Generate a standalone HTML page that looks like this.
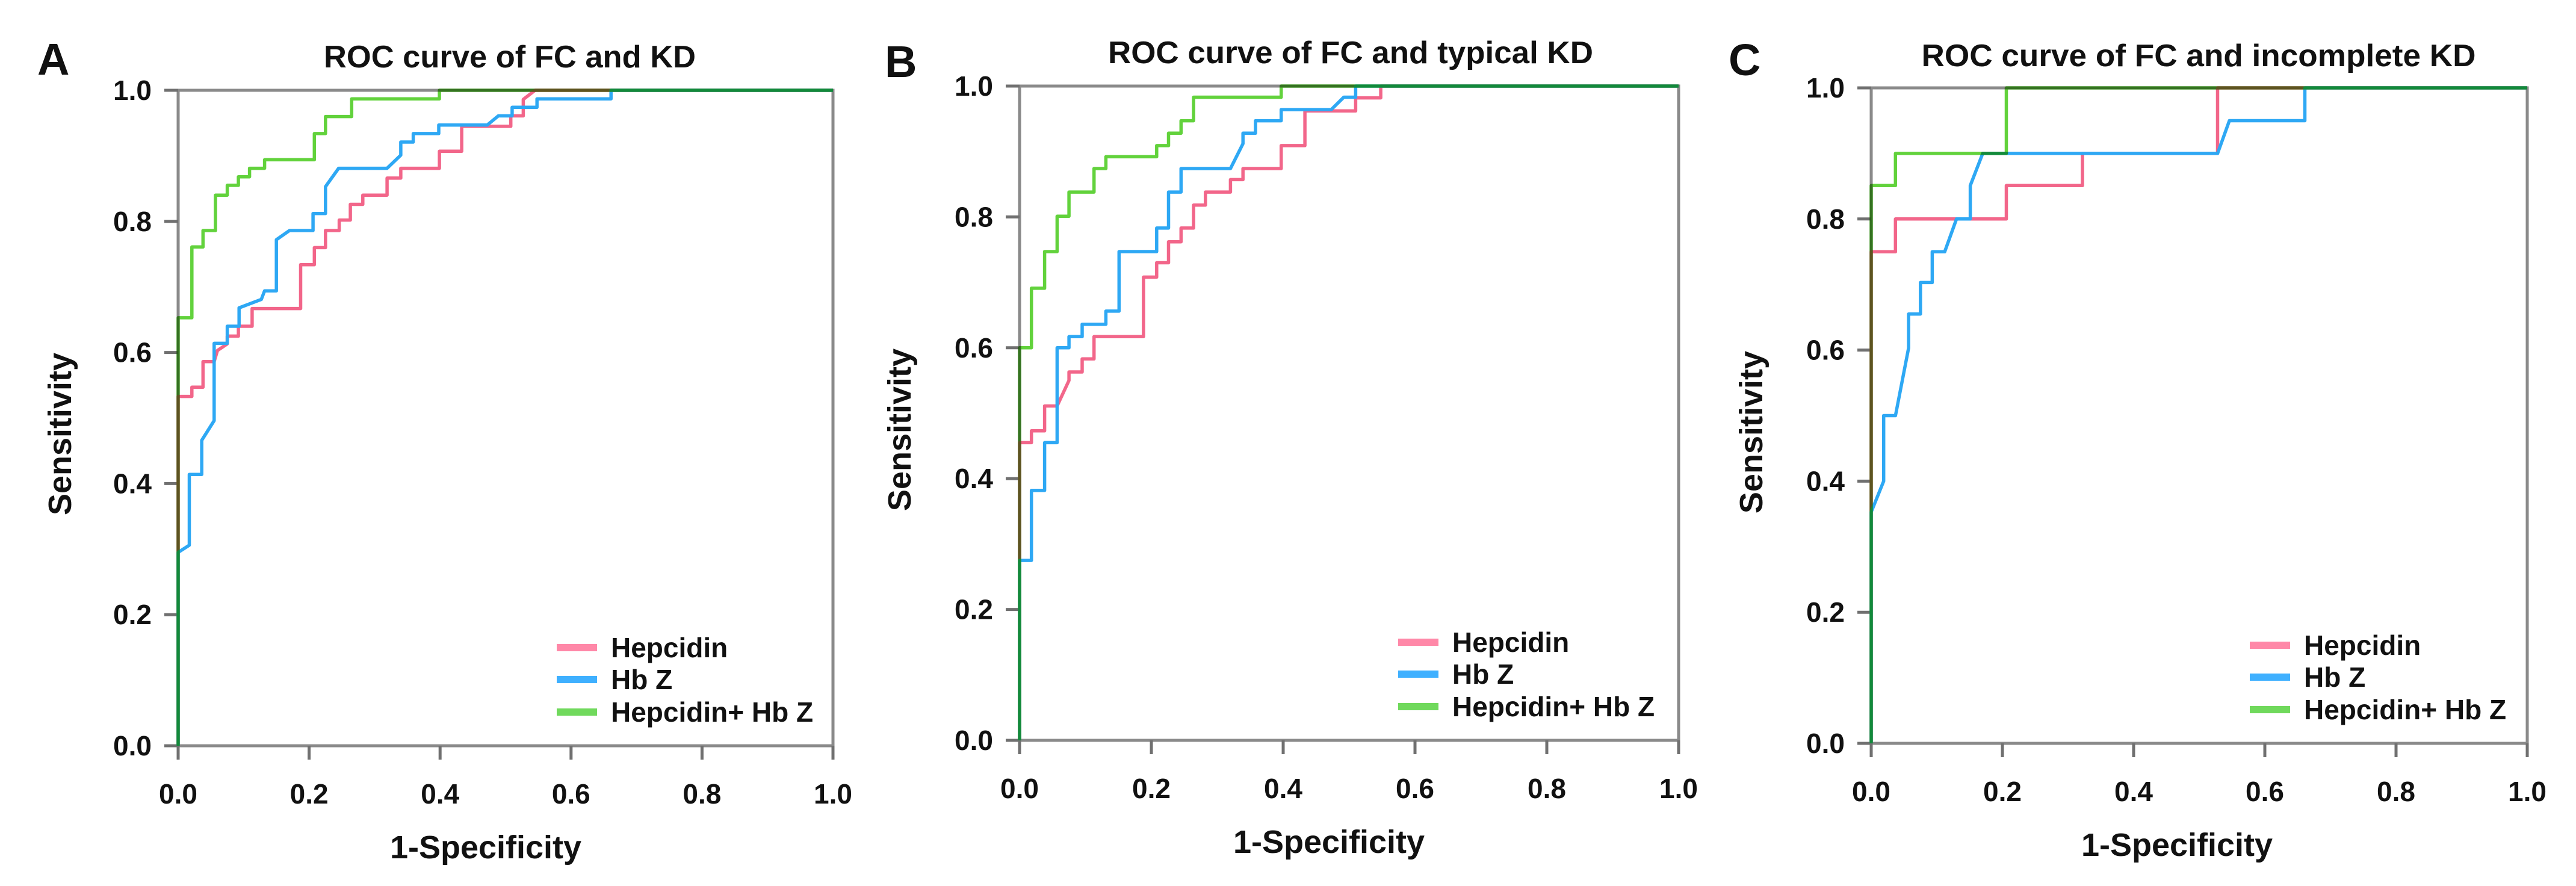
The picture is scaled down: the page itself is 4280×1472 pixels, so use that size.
<!DOCTYPE html>
<html><head><meta charset="utf-8"><style>
html,body{margin:0;padding:0;background:#fff;}
svg{display:block;}
text{font-family:"Liberation Sans",Arial,sans-serif;font-weight:bold;fill:#111;}
</style></head><body>
<svg id="fig" xmlns="http://www.w3.org/2000/svg" width="4280" height="1472" viewBox="0 0 4280 1472"></svg>
<script>
// ---- data (fpr / tpr pairs) ----
const tickValues = [0, 0.2, 0.4, 0.6, 0.8, 1.0];
const tickLabels = ["0.0", "0.2", "0.4", "0.6", "0.8", "1.0"];
const seriesNames = ["Hepcidin", "Hb Z", "Hepcidin+ Hb Z"];
const panelTitles = ["ROC curve of FC and KD", "ROC curve of FC and typical KD", "ROC curve of FC and incomplete KD"];
const panelLetters = ["A", "B", "C"];

const aHepFpr = [0,0,0.021,0.021,0.038,0.038,0.055,0.06,0.075,0.075,0.092,0.092,0.113,0.113,0.187,0.187,0.208,0.208,0.225,0.225,0.246,0.246,0.263,0.263,0.282,0.282,0.319,0.319,0.34,0.34,0.399,0.399,0.433,0.433,0.508,0.508,0.527,0.527,0.545,1];
const aHepTpr = [0,0.533,0.533,0.547,0.547,0.586,0.586,0.603,0.613,0.625,0.625,0.64,0.64,0.667,0.667,0.734,0.734,0.76,0.76,0.786,0.786,0.802,0.802,0.826,0.826,0.84,0.84,0.866,0.866,0.881,0.881,0.907,0.907,0.945,0.945,0.961,0.961,0.986,1,1];
const aHbzFpr = [0,0,0.017,0.017,0.036,0.036,0.055,0.055,0.075,0.075,0.093,0.093,0.127,0.132,0.15,0.15,0.17,0.206,0.206,0.225,0.225,0.245,0.319,0.34,0.34,0.359,0.359,0.398,0.398,0.472,0.489,0.51,0.51,0.548,0.548,0.661,0.661,1];
const aHbzTpr = [0,0.295,0.306,0.414,0.414,0.466,0.496,0.614,0.614,0.64,0.64,0.668,0.681,0.694,0.694,0.772,0.786,0.786,0.812,0.812,0.853,0.881,0.881,0.901,0.921,0.921,0.934,0.934,0.947,0.947,0.961,0.961,0.974,0.974,0.987,0.987,1,1];
const aCmbFpr = [0,0,0.021,0.021,0.038,0.038,0.057,0.057,0.075,0.075,0.092,0.092,0.109,0.109,0.132,0.132,0.208,0.208,0.225,0.225,0.265,0.265,0.399,0.399,1];
const aCmbTpr = [0,0.653,0.653,0.761,0.761,0.786,0.786,0.84,0.84,0.855,0.855,0.868,0.868,0.881,0.881,0.894,0.894,0.934,0.934,0.96,0.96,0.987,0.987,1,1];

const bHepFpr = [0,0,0.018,0.018,0.038,0.038,0.057,0.075,0.075,0.095,0.095,0.113,0.113,0.188,0.188,0.208,0.208,0.226,0.226,0.245,0.245,0.264,0.264,0.282,0.282,0.32,0.32,0.339,0.339,0.397,0.397,0.433,0.433,0.51,0.51,0.548,0.548,1];
const bHepTpr = [0,0.455,0.455,0.473,0.473,0.511,0.511,0.55,0.563,0.563,0.583,0.583,0.617,0.617,0.708,0.708,0.73,0.73,0.762,0.762,0.783,0.783,0.818,0.818,0.838,0.838,0.857,0.857,0.874,0.874,0.909,0.909,0.962,0.962,0.982,0.982,1,1];
const bHbzFpr = [0,0,0.018,0.018,0.038,0.038,0.057,0.057,0.075,0.075,0.095,0.095,0.131,0.131,0.151,0.151,0.208,0.208,0.226,0.226,0.245,0.245,0.32,0.339,0.339,0.358,0.358,0.397,0.397,0.473,0.492,0.51,0.51,1];
const bHbzTpr = [0,0.275,0.275,0.382,0.382,0.455,0.455,0.6,0.6,0.617,0.617,0.636,0.636,0.656,0.656,0.747,0.747,0.783,0.783,0.838,0.838,0.874,0.874,0.912,0.928,0.928,0.947,0.947,0.964,0.964,0.983,0.983,1,1];
const bCmbFpr = [0,0,0.018,0.018,0.038,0.038,0.057,0.057,0.075,0.075,0.113,0.113,0.131,0.131,0.208,0.208,0.226,0.226,0.245,0.245,0.264,0.264,0.397,0.397,1];
const bCmbTpr = [0,0.6,0.6,0.691,0.691,0.747,0.747,0.801,0.801,0.838,0.838,0.874,0.874,0.892,0.892,0.909,0.909,0.928,0.928,0.947,0.947,0.983,0.983,1,1];

const cHepFpr = [0,0,0.037,0.037,0.206,0.206,0.322,0.322,0.528,0.528,1];
const cHepTpr = [0,0.75,0.75,0.8,0.8,0.851,0.851,0.9,0.9,1,1];
const cHbzFpr = [0,0,0.019,0.019,0.037,0.057,0.057,0.075,0.075,0.093,0.093,0.112,0.13,0.151,0.151,0.17,0.528,0.546,0.661,0.661,1];
const cHbzTpr = [0,0.353,0.4,0.5,0.5,0.603,0.655,0.655,0.703,0.703,0.75,0.75,0.8,0.8,0.851,0.9,0.9,0.95,0.95,1,1];
const cCmbFpr = [0,0,0.037,0.037,0.206,0.206,1];
const cCmbTpr = [0,0.851,0.851,0.9,0.9,1,1];

const panelFpr = [[aHepFpr,aHbzFpr,aCmbFpr],[bHepFpr,bHbzFpr,bCmbFpr],[cHepFpr,cHbzFpr,cCmbFpr]];
const panelTpr = [[aHepTpr,aHbzTpr,aCmbTpr],[bHepTpr,bHbzTpr,bCmbTpr],[cHepTpr,cHbzTpr,cCmbTpr]];

// ---- layout ----
const layouts = [
  {x0:296, x1:1384, y0:150, y1:1239, titleX:847, titleY:112, titleW:618, letterX:62, letterY:124, sensX:118, sensY:721, specX:807, specY:1426},
  {x0:1694, x1:2789, y0:143, y1:1230, titleX:2244, titleY:105, titleW:806, letterX:1470, letterY:128, sensX:1513, sensY:714, specX:2208, specY:1417},
  {x0:3109, x1:4199, y0:146, y1:1235, titleX:3653, titleY:110, titleW:921, letterX:2872, letterY:125, sensX:2928, sensY:718, specX:3617, specY:1422}
];
const curveColors = ["#f2668a", "#2ea8f4", "#62d23c"];
const legendColors = ["#ff88a8", "#3fb0ff", "#70d95c"];
const NS = "http://www.w3.org/2000/svg";
const svg = document.getElementById("fig");

function mk(tag, attrs, parent) {
  const e = document.createElementNS(NS, tag);
  for (const k in attrs) e.setAttribute(k, attrs[k]);
  parent.appendChild(e);
  return e;
}

layouts.forEach(function(L, p) {
  const sx = v => L.x0 + v * (L.x1 - L.x0);
  const sy = v => L.y1 - v * (L.y1 - L.y0);
  const g = mk("g", {}, svg);
  
  

  const letter = mk("text", {x: L.letterX, y: L.letterY, "font-size": 74}, g);
  letter.textContent = panelLetters[p];
  
  

  const title = mk("text", {x: L.titleX, y: L.titleY, "font-size": 52, "text-anchor": "middle", textLength: L.titleW, lengthAdjust: "spacingAndGlyphs"}, g);
  title.textContent = panelTitles[p];
  
  

  // frame
  const frame = mk("rect", {x: L.x0, y: L.y0, width: L.x1 - L.x0, height: L.y1 - L.y0, fill: "none", stroke: "#8a8a8a", "stroke-width": 5}, g);
  
  

  tickValues.forEach(function(v, i) {
    const yt = mk("line", {x1: L.x0 - 23, x2: L.x0, y1: sy(v), y2: sy(v), stroke: "#707070", "stroke-width": 5}, g);
    
    
    const xt = mk("line", {x1: sx(v), x2: sx(v), y1: L.y1, y2: L.y1 + 23, stroke: "#707070", "stroke-width": 5}, g);
    
    
    const yl = mk("text", {x: L.x0 - 44, y: sy(v) + 16, "font-size": 46, "text-anchor": "end"}, g);
    yl.textContent = tickLabels[i];
    
    
    const xl = mk("text", {x: sx(v), y: L.y1 + 96, "font-size": 46, "text-anchor": "middle"}, g);
    xl.textContent = tickLabels[i];
    
    
  });

  const sens = mk("text", {x: L.sensX, y: L.sensY, "font-size": 54, "text-anchor": "middle", transform: "rotate(-90 " + L.sensX + " " + L.sensY + ")"}, g);
  sens.textContent = "Sensitivity";
  
  

  const spec = mk("text", {x: L.specX, y: L.specY, "font-size": 54, "text-anchor": "middle"}, g);
  spec.textContent = "1-Specificity";
  
  

  // curves
  for (let s = 0; s < 3; s++) {
    const fx = panelFpr[p][s], ty = panelTpr[p][s];
    const pts = fx.map((v, i) => sx(v).toFixed(1) + "," + sy(ty[i]).toFixed(1)).join(" ");
    const attrs = {points: pts, fill: "none", stroke: curveColors[s], "stroke-width": 5.5, "stroke-linejoin": "round"};
    if (s === 2) attrs.style = "mix-blend-mode:multiply";
    const pl = mk("polyline", attrs, g);
    
    
  }

  // legend
  const lx = L.x0 + 629, tx = L.x0 + 719;
  const rowOff = [163, 110, 56];
  for (let s = 0; s < 3; s++) {
    const cy = L.y1 - rowOff[s];
    const ll = mk("line", {x1: lx, x2: lx + 67, y1: cy, y2: cy, stroke: legendColors[s], "stroke-width": 12}, g);
    
    
    const lt = mk("text", {x: tx, y: cy + 16, "font-size": 46}, g);
    lt.textContent = seriesNames[s];
    
    
  }
});
</script>
</body></html>
